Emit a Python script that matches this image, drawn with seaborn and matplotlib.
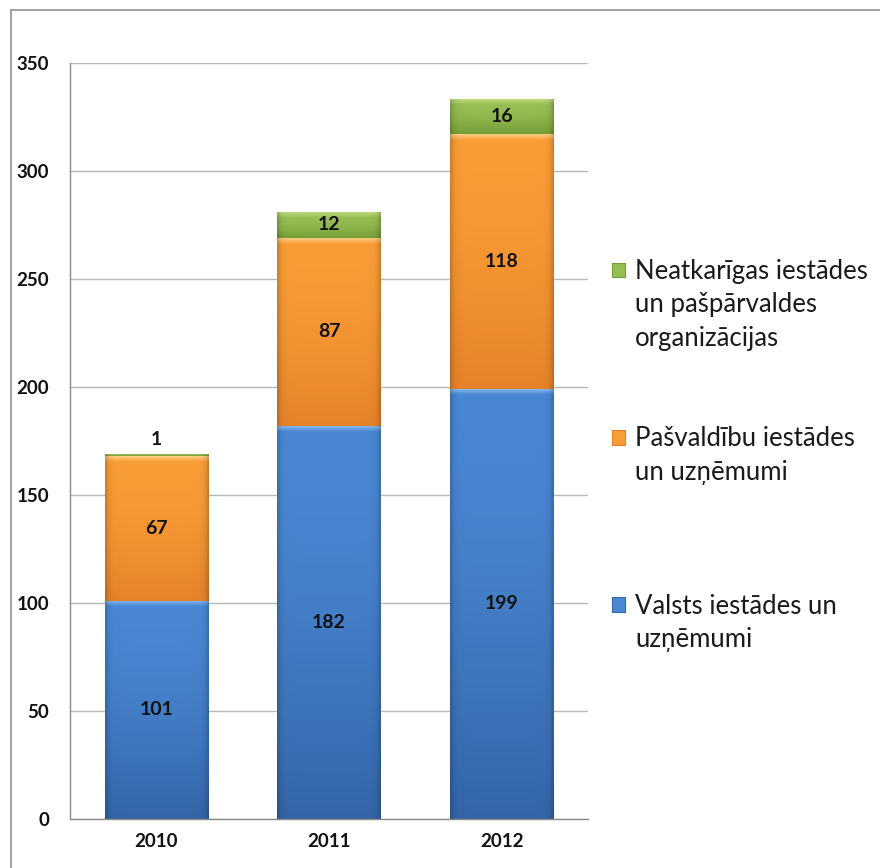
import numpy as np
import pandas as pd
import matplotlib
matplotlib.use("Agg")
import matplotlib.pyplot as plt
import seaborn as sns
from matplotlib.patches import Patch
from matplotlib.lines import Line2D
from matplotlib.colors import to_rgb

# ---- data ----
years = ["2010", "2011", "2012"]
valsts = [101, 182, 199]
pasvaldibu = [67, 87, 118]
neatkarigas = [1, 12, 16]
label_valsts = "Valsts iestādes un\nuzņēmumi"
label_pasv = "Pašvaldību iestādes\nun uzņēmumi"
label_neat = "Neatkarīgas iestādes\nun pašpārvaldes\norganizācijas"
yticks = [0, 50, 100, 150, 200, 250, 300, 350]

# colour ramps: (highlight, top, bottom)
ramps = {
    "valsts": ("#86baf2", "#4a88d4", "#3465a8"),
    "pasv": ("#ffcc80", "#fa9d36", "#e6822a"),
    "neat": ("#bedc80", "#97be53", "#759d36"),
}

sns.set_theme(style="white")
plt.rcParams['font.family'] = ['Lato', 'DejaVu Sans']

W, H = 880, 868
fig = plt.figure(figsize=(W / 100, H / 100), dpi=100)
ax = fig.add_axes([70 / W, 1 - 819 / H, 518 / W, (819 - 62.7) / H])

df = pd.DataFrame({"year": years, "valsts": valsts, "pasv": pasvaldibu, "neat": neatkarigas})

def gradient(key, val, ncol=80, nrow=240):
    hl, top, bot = [np.array(to_rgb(c)) for c in ramps[key]]
    t = np.linspace(0, 1, nrow)[:, None]
    hf = min(2.6 / val, 0.35)
    s = np.clip((t - hf) / (1 - hf), 0, 1) ** 1.6
    col = np.where(t < hf,
                   hl + (top - hl) * (t / hf),
                   top + (bot - top) * s)
    u = np.linspace(0, 1, ncol)
    edge = 1 - 0.2 * np.exp(-u / 0.03) - 0.2 * np.exp(-(1 - u) / 0.03)
    img = col[:, None, :] * edge[None, :, None]
    return np.clip(img, 0, 1)

bottoms = np.zeros(len(years))
for key in ["valsts", "pasv", "neat"]:
    vals = df[key].to_numpy()
    n0 = len(ax.patches)
    sns.barplot(data=df, x="year", y=key, ax=ax, width=0.6,
                color=ramps[key][1], errorbar=None, zorder=2)
    new = ax.patches[n0:]
    for j, p in enumerate(new):
        p.set_y(bottoms[j])
        p.set_height(vals[j])
        p.set_facecolor("none")
        p.set_edgecolor("none")
        x0, w = p.get_x(), p.get_width()
        im = ax.imshow(gradient(key, vals[j]), extent=[x0, x0 + w, bottoms[j], bottoms[j] + vals[j]],
                       origin="upper", aspect="auto", interpolation="bilinear", zorder=2)
        im.set_clip_path(p)
        cx = x0 + w / 2
        if vals[j] < 5:
            ax.text(cx, bottoms[j] + vals[j] + 2.5, str(vals[j]), ha="center", va="bottom",
                    fontsize=14, fontweight="bold", color="#111111", zorder=4)
        else:
            ax.text(cx, bottoms[j] + vals[j] / 2, str(vals[j]), ha="center", va="center",
                    fontsize=14, fontweight="bold", color="#111111", zorder=4)
    bottoms = bottoms + vals

ax.set_aspect("auto")
ax.set_xlim(-0.5, len(years) - 0.5)
ax.set_ylim(0, 350)
ax.set_yticks(yticks)
ax.set_xlabel("")
ax.set_ylabel("")
ax.yaxis.grid(True, color="#b8b8b8", lw=1.0, zorder=0)
ax.set_axisbelow(True)
for s in ["top", "right"]:
    ax.spines[s].set_visible(False)
for s in ["left", "bottom"]:
    ax.spines[s].set_color("#8a8a8a")
    ax.spines[s].set_linewidth(1.0)
ax.tick_params(axis="y", which="major", length=5, width=1, color="#8a8a8a", direction="out",
               pad=10, labelsize=13.5, labelcolor="#111111")
ax.tick_params(axis="x", which="major", length=0, pad=10, labelsize=13.5, labelcolor="#111111")
ax.set_xticks(np.arange(-0.5, len(years)), minor=True)
ax.tick_params(axis="x", which="minor", length=5, width=1, color="#8a8a8a", direction="out")
for lab in ax.get_xticklabels() + ax.get_yticklabels():
    lab.set_fontweight("bold")

# legend: one row per text line
handles, labels = [], []
blank = Patch(facecolor="none", edgecolor="none")
groups = [(label_neat, "neat", 2), (label_pasv, "pasv", 3), (label_valsts, "valsts", 0)]
for lab, key, gap in groups:
    lines = lab.split("\n")
    for i, ln in enumerate(lines):
        if i == 0:
            handles.append(Patch(facecolor=ramps[key][1], edgecolor=ramps[key][2], lw=0.8))
        else:
            handles.append(blank)
        labels.append(ln)
    for _ in range(gap):
        handles.append(blank)
        labels.append(" ")
fig.legend(handles, labels, loc="upper left", bbox_to_anchor=(612 / W, 1 - 259 / H),
           frameon=False, fontsize=18.5, labelspacing=0.33, handlelength=0.5, handleheight=0.5,
           handletextpad=0.4, borderpad=0, borderaxespad=0, labelcolor="#1a1a1a")

# chart border
fig.add_artist(Line2D([11 / W, 11 / W], [0, 1 - 10 / H], transform=fig.transFigure, color="#a0a0a0", lw=1.4))
fig.add_artist(Line2D([11 / W, 1], [1 - 10 / H, 1 - 10 / H], transform=fig.transFigure, color="#a0a0a0", lw=1.4))

fig.savefig("out.png", dpi=100)
